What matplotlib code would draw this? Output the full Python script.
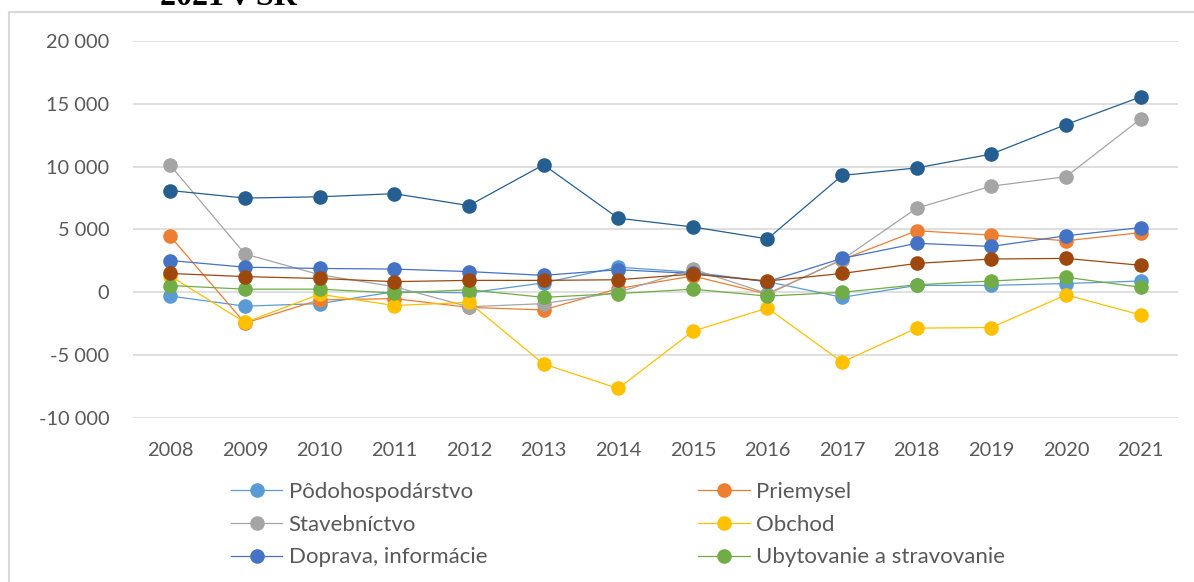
import matplotlib
matplotlib.use('Agg')
import matplotlib.pyplot as plt
from matplotlib.patches import Rectangle
from matplotlib.ticker import FuncFormatter

# ── DATA ───────────────────────────────────────
years = [2008, 2009, 2010, 2011, 2012, 2013, 2014,
         2015, 2016, 2017, 2018, 2019, 2020, 2021]

podohospodarstvo = [-300, -1100, -900, 50, -50, 750, 2000,
                    1600, 850, -400, 550, 550, 700, 900]
priemysel = [4450, -2450, -600, -500, -1200, -1400, 300,
             1300, -150, 2600, 4900, 4550, 4100, 4750]
stavebnictvo = [10100, 3050, 1400, 450, -1150, -900, 0,
                1850, -100, 2600, 6700, 8450, 9200, 13800]
obchod = [1300, -2400, -150, -1050, -800, -5700, -7650,
          -3100, -1250, -5550, -2850, -2800, -200, -1800]
doprava = [2530, 2000, 1900, 1850, 1650, 1350, 1800,
           1500, 850, 2700, 3900, 3650, 4500, 5150]
ubytovanie = [540, 250, 250, -50, 200, -400, -100,
              250, -300, 0, 600, 900, 1200, 400]
sluzby_a = [8100, 7500, 7600, 7850, 6900, 10150, 5900,
            5200, 4250, 9300, 9900, 11000, 13350, 15550]
sluzby_b = [1500, 1250, 1100, 850, 950, 950, 1000,
            1450, 900, 1500, 2300, 2650, 2700, 2150]

# (label shown in legend, values, colour)
series = [
    ('Pôdohospodárstvo',           podohospodarstvo, '#5B9BD5'),
    ('Priemysel',                  priemysel,        '#ED7D31'),
    ('Stavebníctvo',               stavebnictvo,     '#A5A5A5'),
    ('Obchod',                     obchod,           '#FFC000'),
    ('Doprava, informácie',        doprava,          '#4472C4'),
    ('Ubytovanie a stravovanie',   ubytovanie,       '#70AD47'),
    (None,                         sluzby_a,         '#255E91'),
    (None,                         sluzby_b,         '#9E480E'),
]

# ── FIGURE ─────────────────────────────────────
plt.rcParams['font.family'] = ['Lato', 'DejaVu Sans']
fig = plt.figure(figsize=(11.94, 5.82), dpi=100, facecolor='white')
ax = fig.add_axes([0.1114, 0.2818, 0.8752, 0.6478])

handles, labels = [], []
for name, vals, col in series:
    ln, = ax.plot(years, vals, color=col, lw=0.9, marker='o',
                  markersize=10.5, markeredgewidth=0)
    if name:
        handles.append(ln)
        labels.append(name)

ax.set_xlim(2007.5, 2021.5)
ax.set_ylim(-10000, 20000)
ax.set_yticks(range(-10000, 20001, 5000))
ax.set_xticks(years)
ax.yaxis.set_major_formatter(
    FuncFormatter(lambda v, p: f'{int(v):,}'.replace(',', ' ')))
ax.grid(axis='y', color='#D9D9D9', lw=1.2)
ax.set_axisbelow(True)
for s in ax.spines.values():
    s.set_visible(False)
ax.tick_params(length=0, labelsize=14.4, colors='#595959')
ax.tick_params(axis='y', pad=17)
ax.tick_params(axis='x', pad=17)

# legend is filled column by column, so reorder to read row by row
order = [0, 2, 4, 1, 3, 5]
leg = fig.legend([handles[i] for i in order], [labels[i] for i in order],
                 ncol=2, loc='upper left',
                 bbox_to_anchor=(231 / 1194, 1 - 482 / 582),
                 borderpad=0, borderaxespad=0,
                 frameon=False, fontsize=16, handlelength=2.3,
                 handletextpad=0.3, columnspacing=9.5, labelspacing=0.57)
for t in leg.get_texts():
    t.set_color('#595959')

# chart frame
fig.patches.append(Rectangle((8.5 / 1194, -0.1), 1.2, 1.1 - 11.5 / 582,
                             transform=fig.transFigure, fill=False,
                             edgecolor='#D9D9D9', lw=1.5))

# heading line above the chart
fig.text(160 / 1194, 1 - 5 / 582, '2021 v SR', family='Liberation Serif',
         fontweight='bold', fontsize=23, va='baseline', ha='left',
         color='black')

fig.savefig('out.png', dpi=100)
